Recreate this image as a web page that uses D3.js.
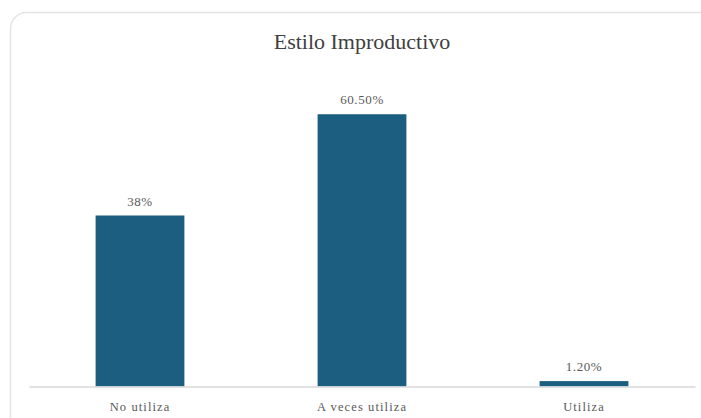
<!DOCTYPE html>
<html>
<head>
<meta charset="utf-8">
<script src="https://cdn.jsdelivr.net/npm/d3@7"></script>
<style>
  html, body { margin: 0; padding: 0; background: #ffffff; }
  svg { display: block; }
</style>
</head>
<body>
<svg id="chart" width="701" height="418"></svg>
<script>
// Chart data
const title = "Estilo Improductivo";
const categories = ["No utiliza", "A veces utiliza", "Utiliza"];
const values = [38, 60.5, 1.2];
const valueLabels = ["38%", "60.50%", "1.20%"];

const W = 701, H = 418;
const svg = d3.select("#chart");

// Card frame with rounded corner, extending past the right and bottom edges
svg.append("rect")
  .attr("x", 10.5).attr("y", 12.5)
  .attr("width", 720).attr("height", 430)
  .attr("rx", 16).attr("ry", 16)
  .attr("fill", "#ffffff")
  .attr("stroke", "#e4e4e4")
  .attr("stroke-width", 1.5);

const x = d3.scaleBand()
  .domain(categories)
  .range([29, 695])
  .paddingInner(0.6)
  .paddingOuter(0.3);

const baseY = 386.5;
const y = d3.scaleLinear()
  .domain([0, 70])
  .range([baseY, baseY - 70 * 4.5]);

const serif = "'Liberation Serif', 'Times New Roman', serif";

// Title
svg.append("text")
  .attr("x", 362).attr("y", 49)
  .attr("text-anchor", "middle")
  .attr("font-family", serif)
  .attr("font-size", 22)
  .attr("fill", "#404040")
  .text(title);

// Bars
svg.append("g").selectAll("rect")
  .data(values)
  .join("rect")
  .attr("x", (d, i) => x(categories[i]))
  .attr("y", d => y(d))
  .attr("width", x.bandwidth())
  .attr("height", d => y(0) - y(d))
  .attr("fill", "#1b5e80");

// Category axis
const axis = svg.append("g")
  .attr("transform", `translate(0,${baseY})`)
  .call(d3.axisBottom(x).tickSize(0).tickSizeOuter(0));
axis.select(".domain")
  .attr("stroke", "#d9d9d9")
  .attr("stroke-width", 1.5);
axis.selectAll("text")
  .attr("dy", 0)
  .attr("y", 24)
  .attr("font-family", serif)
  .attr("font-size", 12.5)
  .attr("letter-spacing", "1.1px")
  .attr("fill", "#595959");

// Value labels above the bars
svg.append("g").selectAll("text")
  .data(values)
  .join("text")
  .attr("x", (d, i) => x(categories[i]) + x.bandwidth() / 2)
  .attr("y", d => y(d) - 10)
  .attr("text-anchor", "middle")
  .attr("font-family", serif)
  .attr("font-size", 13)
  .attr("letter-spacing", "0.6px")
  .attr("fill", "#595959")
  .text((d, i) => valueLabels[i]);
</script>
</body>
</html>
